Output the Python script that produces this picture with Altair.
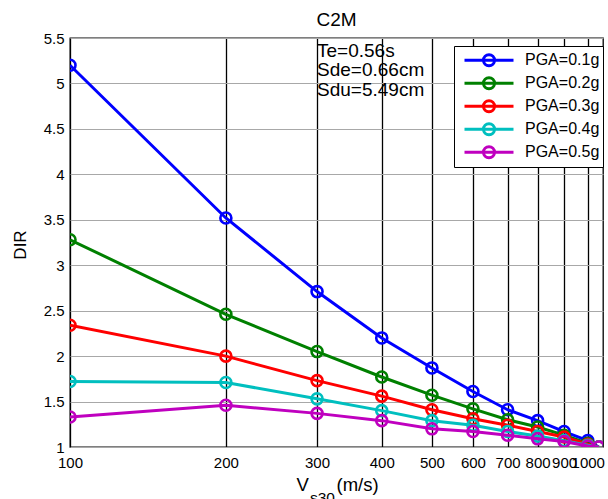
import altair as alt
import pandas as pd

# Shear-wave velocity (m/s) at which DIR was evaluated
vs30 = [100, 200, 300, 400, 500, 600, 700, 800, 900, 1000, 1050]

series_names = ["PGA=0.1g", "PGA=0.2g", "PGA=0.3g", "PGA=0.4g", "PGA=0.5g"]
series_colors = ["#0000ff", "#008000", "#ff0000", "#00bfbf", "#bf00bf"]

dir_pga01 = [5.20, 3.52, 2.71, 2.20, 1.87, 1.61, 1.41, 1.29, 1.17, 1.07, 1.00]
dir_pga02 = [3.28, 2.46, 2.05, 1.77, 1.57, 1.42, 1.30, 1.22, 1.13, 1.04, 1.00]
dir_pga03 = [2.34, 2.00, 1.73, 1.56, 1.41, 1.31, 1.24, 1.17, 1.11, 1.03, 1.00]
dir_pga04 = [1.72, 1.71, 1.53, 1.40, 1.29, 1.24, 1.17, 1.12, 1.07, 1.02, 1.00]
dir_pga05 = [1.33, 1.46, 1.37, 1.29, 1.20, 1.17, 1.13, 1.09, 1.06, 1.01, 1.00]
dir_series = [dir_pga01, dir_pga02, dir_pga03, dir_pga04, dir_pga05]

x_ticks = [100, 200, 300, 400, 500, 600, 700, 800, 900, 1000]
y_ticks = [1, 1.5, 2, 2.5, 3, 3.5, 4, 4.5, 5, 5.5]
note_lines = ["Te=0.56s", "Sde=0.66cm", "Sdu=5.49cm"]

rows = []
for name, values in zip(series_names, dir_series):
    for v, d in zip(vs30, values):
        rows.append({"Vs30": v, "DIR": d, "series": name})
df = pd.DataFrame(rows)
single = pd.DataFrame({"k": [0]})

FONT = "Liberation Sans"
W, H = 533, 409

# legend glyph: a line segment with an open circle in the middle
r = 0.2245
legend_glyph = (
    f"M-1,0L1,0M{r},0A{r},{r},0,1,1,-{r},0A{r},{r},0,1,1,{r},0"
)

x_enc = alt.X(
    "Vs30:Q",
    scale=alt.Scale(type="log", domain=[100, 1070], nice=False),
    axis=alt.Axis(
        values=x_ticks, format="d", labelOverlap=False, labelFlush=False,
        ticks=False, labelPadding=8, labelFontSize=15, labelFont=FONT,
        labelColor="black", grid=True, gridColor="black", gridWidth=1.3,
        domain=False, title=None,
    ),
)
y_enc = alt.Y(
    "DIR:Q",
    scale=alt.Scale(domain=[1, 5.5], nice=False, zero=False),
    axis=alt.Axis(
        values=y_ticks, format="~g", labelFlush=False, ticks=False,
        labelPadding=6, labelFontSize=15, labelFont=FONT, labelColor="black",
        grid=True, gridColor="#a8a8a8", gridWidth=1, domain=False,
        title="DIR", titleFont=FONT, titleFontSize=17, titleFontWeight="normal",
        titleColor="black", titleX=-50, titleY=H / 2 + 2, titleAngle=-90,
        titleBaseline="middle", titleAlign="center",
    ),
)
color_enc = alt.Color(
    "series:N",
    scale=alt.Scale(domain=series_names, range=series_colors),
    legend=alt.Legend(
        title=None, orient="none", legendX=384, legendY=8,
        symbolType=legend_glyph, symbolSize=2401, symbolStrokeWidth=3,
        labelFontSize=16, labelFont=FONT, labelColor="black", labelLimit=200,
        strokeColor="black", fillColor="white", padding=3,
        clipHeight=22.5, rowPadding=0, symbolOffset=6, labelOffset=10,
    ),
)

base = alt.Chart(df)
layers = []
for name in series_names:
    sub = base.transform_filter(alt.datum.series == name)
    layers.append(
        sub.mark_line(strokeWidth=3, clip=True).encode(x=x_enc, y=y_enc, color=color_enc)
    )
    layers.append(
        sub.mark_point(filled=False, size=121, strokeWidth=2.6, opacity=1, clip=True)
        .encode(x=x_enc, y=y_enc, color=color_enc)
    )

note = alt.Chart(single).mark_text(
    text=note_lines, align="left", baseline="alphabetic", fontSize=19,
    lineHeight=19.4, font=FONT, color="black",
).encode(x=alt.datum(300), y=alt.datum(5.29))

# x-axis title with subscript: V_s30(m/s)
title_v = alt.Chart(single).mark_text(
    text="V", align="left", baseline="alphabetic", fontSize=18.5, font=FONT, color="black"
).encode(x=alt.value(226.5), y=alt.value(453))
title_sub = alt.Chart(single).mark_text(
    text="s30", align="left", baseline="alphabetic", fontSize=15.5, font=FONT, color="black"
).encode(x=alt.value(240), y=alt.value(465))
title_unit = alt.Chart(single).mark_text(
    text="(m/s)", align="left", baseline="alphabetic", fontSize=18.5, font=FONT, color="black"
).encode(x=alt.value(266.5), y=alt.value(453))

chart = (
    alt.layer(*layers, note, title_v, title_sub, title_unit)
    .properties(
        width=W, height=H,
        title=alt.Title("C2M", fontSize=19, font=FONT, fontWeight="normal",
                        color="black", offset=1, anchor="middle"),
        autosize=alt.AutoSizeParams(type="none"),
        padding={"left": 70, "top": 38, "right": 5, "bottom": 52},
        background="white",
    )
    .configure_view(stroke="black", strokeWidth=1.3)
)

chart.save("out.html", embed_options={"renderer": "svg", "actions": False})
